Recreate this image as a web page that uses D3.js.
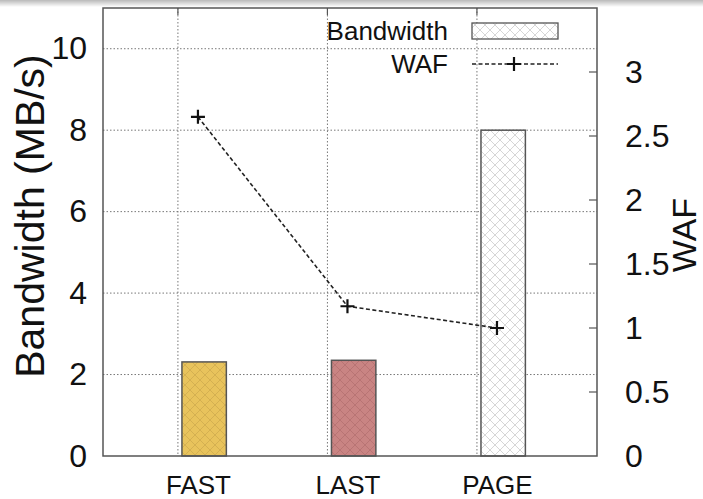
<!DOCTYPE html>
<html>
<head>
<meta charset="utf-8">
<script src="https://cdn.jsdelivr.net/npm/d3@7"></script>
<style>
  html, body { margin: 0; padding: 0; background: #fff; }
  svg { display: block; }
  text { font-family: "Liberation Sans", Arial, Helvetica, sans-serif; fill: #111; }
</style>
</head>
<body>
<svg id="chart" width="703" height="499"></svg>
<script>
// ---- data ----
const categories = ["FAST", "LAST", "PAGE"];
const bandwidth = [2.31, 2.35, 8.0];          // MB/s (left axis)
const waf = [2.65, 1.17, 1.0];                 // WAF (right axis)
const leftTicks = [0, 2, 4, 6, 8, 10];
const rightTicks = [0, 0.5, 1, 1.5, 2, 2.5, 3];
const rightTickLabels = ["0", "0.5", "1", "1.5", "2", "2.5", "3"];
const barColors = ["#e8c35c", "#c98483", "#ffffff"];
const hatchColors = ["#cfab4e", "#b47070", "#cccccc"];
const seriesNames = ["Bandwidth", "WAF"];

// ---- layout ----
const W = 703, H = 499;
const plot = { left: 103, right: 597, top: 8, bottom: 456 };

const svg = d3.select("#chart");

// top shadow band (screenshot edge)
const defs = svg.append("defs");
const grad = defs.append("linearGradient").attr("id", "topShade")
  .attr("x1", 0).attr("y1", 0).attr("x2", 0).attr("y2", 1);
grad.append("stop").attr("offset", "0%").attr("stop-color", "#b9b9b9");
grad.append("stop").attr("offset", "100%").attr("stop-color", "#ffffff");

// hatch patterns
categories.forEach((c, i) => {
  const p = defs.append("pattern").attr("id", "hatch" + i)
    .attr("patternUnits", "userSpaceOnUse").attr("width", 10).attr("height", 10);
  p.append("rect").attr("width", 10).attr("height", 10).attr("fill", barColors[i]);
  p.append("path").attr("d", "M0,0 L10,10 M10,0 L0,10 M-5,5 L5,15 M5,-5 L15,5 M5,15 L15,5 M-5,5 L5,-5")
    .attr("stroke", hatchColors[i]).attr("stroke-width", 0.8).attr("fill", "none");
});

// scales
const x = d3.scaleLinear().domain([-0.635, 2.669]).range([plot.left, plot.right]);
const y = d3.scaleLinear().domain([0, 11]).range([plot.bottom, plot.top]);
const y2 = d3.scaleLinear().domain([0, 3.5]).range([plot.bottom, plot.top]);

const gridOffset = -0.134;
const barLeft = -0.107, barRight = 0.19;

// grid lines (horizontal)
svg.append("g").selectAll("line").data(leftTicks.filter(d => d > 0)).join("line")
  .attr("x1", plot.left).attr("x2", plot.right)
  .attr("y1", d => y(d)).attr("y2", d => y(d))
  .attr("stroke", "#777").attr("stroke-width", 1).attr("stroke-dasharray", "1.5,2");

// grid lines (vertical)
svg.append("g").selectAll("line").data(categories).join("line")
  .attr("x1", (d, i) => x(i + gridOffset)).attr("x2", (d, i) => x(i + gridOffset))
  .attr("y1", plot.top).attr("y2", plot.bottom)
  .attr("stroke", "#777").attr("stroke-width", 1).attr("stroke-dasharray", "1.5,2");

// bars
svg.append("g").selectAll("rect").data(bandwidth).join("rect")
  .attr("x", (d, i) => x(i + barLeft))
  .attr("width", (d, i) => x(i + barRight) - x(i + barLeft))
  .attr("y", d => y(d))
  .attr("height", d => y(0) - y(d))
  .attr("fill", (d, i) => `url(#hatch${i})`)
  .attr("stroke", "#555").attr("stroke-width", 1.5);

// frame
svg.append("rect")
  .attr("x", plot.left).attr("y", plot.top)
  .attr("width", plot.right - plot.left).attr("height", plot.bottom - plot.top)
  .attr("fill", "none").attr("stroke", "#555").attr("stroke-width", 1.5);

// left axis
const yAxis = d3.axisLeft(y).tickValues(leftTicks).tickSize(0).tickPadding(16).tickFormat(d3.format("d"));
const gy = svg.append("g").attr("transform", `translate(${plot.left},0)`).call(yAxis);
gy.select(".domain").remove();
gy.selectAll("text").style("font-size", "32px").attr("fill", "#111")
  .style("font-family", "'Liberation Sans', Arial, sans-serif");

// right axis
const y2Axis = d3.axisRight(y2).tickValues(rightTicks).tickSize(0).tickPadding(28)
  .tickFormat((d, i) => rightTickLabels[i]);
const gy2 = svg.append("g").attr("transform", `translate(${plot.right},0)`).call(y2Axis);
gy2.select(".domain").remove();
gy2.selectAll("text").style("font-size", "32px").attr("fill", "#111")
  .style("font-family", "'Liberation Sans', Arial, sans-serif");
// right inward ticks
svg.append("g").selectAll("line").data(rightTicks.filter(d => d > 0)).join("line")
  .attr("x1", plot.right - 8).attr("x2", plot.right)
  .attr("y1", d => y2(d)).attr("y2", d => y2(d))
  .attr("stroke", "#555").attr("stroke-width", 1.2);

// top inward ticks (mirror of x ticks)
svg.append("g").selectAll("line").data(categories).join("line")
  .attr("x1", (d, i) => x(i + gridOffset)).attr("x2", (d, i) => x(i + gridOffset))
  .attr("y1", plot.top).attr("y2", plot.top + 7)
  .attr("stroke", "#555").attr("stroke-width", 1.2);

// x axis labels
const xAxis = d3.axisBottom(x).tickValues([0, 1, 2]).tickSize(0).tickPadding(20)
  .tickFormat(i => categories[i]);
const gx = svg.append("g").attr("transform", `translate(0,${plot.bottom})`).call(xAxis);
gx.select(".domain").remove();
gx.selectAll("text").style("font-size", "26px").attr("fill", "#111")
  .style("font-family", "'Liberation Sans', Arial, sans-serif");

// WAF line
const line = d3.line().x((d, i) => x(i)).y(d => y2(d));
svg.append("path").datum(waf).attr("d", line)
  .attr("fill", "none").attr("stroke", "#222").attr("stroke-width", 1.6)
  .attr("stroke-dasharray", "4,2.5");
const plusSize = 7;
svg.append("g").selectAll("path").data(waf).join("path")
  .attr("d", (d, i) => {
    const cx = x(i), cy = y2(d);
    return `M${cx - plusSize},${cy} L${cx + plusSize},${cy} M${cx},${cy - plusSize} L${cx},${cy + plusSize}`;
  })
  .attr("stroke", "#111").attr("stroke-width", 2.2).attr("fill", "none");

// axis titles
svg.append("text")
  .attr("transform", `translate(44,${216}) rotate(-90)`)
  .attr("text-anchor", "middle")
  .style("font-size", "41px")
  .text("Bandwidth (MB/s)");
svg.append("text")
  .attr("transform", `translate(696,${235}) rotate(-90)`)
  .attr("text-anchor", "middle")
  .style("font-size", "34px")
  .text("WAF");

// legend
const lg = svg.append("g");
lg.append("text").attr("x", 448).attr("y", 40).attr("text-anchor", "end")
  .style("font-size", "26px").text(seriesNames[0]);
lg.append("rect").attr("x", 472).attr("y", 23).attr("width", 86).attr("height", 16)
  .attr("fill", "url(#hatch2)").attr("stroke", "#555").attr("stroke-width", 1.3);
lg.append("text").attr("x", 448).attr("y", 73).attr("text-anchor", "end")
  .style("font-size", "26px").text(seriesNames[1]);
lg.append("line").attr("x1", 472).attr("x2", 558).attr("y1", 64).attr("y2", 64)
  .attr("stroke", "#222").attr("stroke-width", 1.6).attr("stroke-dasharray", "4,2.5");
lg.append("path").attr("d", `M${514 - plusSize},64 L${514 + plusSize},64 M514,${64 - plusSize} L514,${64 + plusSize}`)
  .attr("stroke", "#111").attr("stroke-width", 2.2);

// top shade
svg.append("rect").attr("x", 0).attr("y", 0).attr("width", W).attr("height", 7)
  .attr("fill", "url(#topShade)");
</script>
</body>
</html>
